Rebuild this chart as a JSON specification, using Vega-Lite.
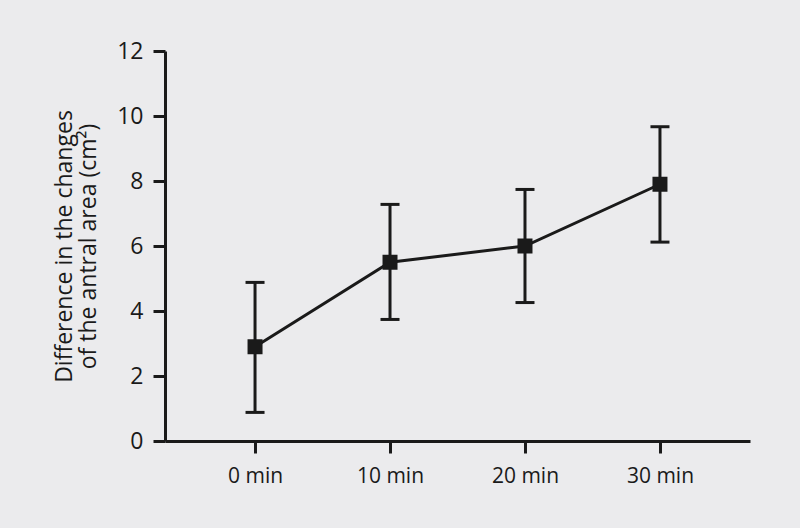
{
  "$schema": "https://vega.github.io/schema/vega-lite/v6.json",
  "width": 585,
  "height": 390,
  "autosize": {"type": "none"},
  "padding": {"left": 165, "top": 51, "right": 50, "bottom": 87},
  "background": "#ebebed",
  "config": {
    "view": {"stroke": null},
    "font": "Open Sans",
    "axis": {
      "domainColor": "#1a1a1a", "domainWidth": 3, "tickColor": "#1a1a1a", "tickWidth": 3,
      "tickSize": 12, "labelColor": "#1a1a1a", "titleColor": "#1a1a1a",
      "labelFontSize": 21, "titleFontSize": 23, "titleFontWeight": "normal", "grid": false,
      "labelFont": "Open Sans", "titleFont": "Open Sans", "titleLineHeight": 24
    }
  },
  "data": {"values": [
    {"time": "0 min", "mean": 2.9, "lo": 0.88, "hi": 4.88},
    {"time": "10 min", "mean": 5.5, "lo": 3.74, "hi": 7.28},
    {"time": "20 min", "mean": 6.0, "lo": 4.26, "hi": 7.74},
    {"time": "30 min", "mean": 7.9, "lo": 6.12, "hi": 9.67}
  ]},
  "encoding": {
    "x": {"field": "time", "type": "ordinal", "sort": null,
      "scale": {"type": "point", "padding": 0.667},
      "axis": {"title": null, "labelAngle": 0, "labelPadding": 12}}
  },
  "layer": [
    {"mark": {"type": "rule", "color": "#1a1a1a", "strokeWidth": 3},
     "encoding": {"y": {"field": "lo", "type": "quantitative",
        "scale": {"domain": [0, 12]},
        "axis": {"values": [0,2,4,6,8,10,12], "labelPadding": 10, "labelFontSize": 23, "titlePadding": 16,
          "title": ["Difference in the changes", "of the antral area (cm²)"]}},
        "y2": {"field": "hi"}}},
    {"mark": {"type": "tick", "orient": "horizontal", "color": "#1a1a1a", "opacity": 1, "thickness": 3, "size": 19},
     "encoding": {"y": {"field": "lo", "type": "quantitative"}}},
    {"mark": {"type": "tick", "orient": "horizontal", "color": "#1a1a1a", "opacity": 1, "thickness": 3, "size": 19},
     "encoding": {"y": {"field": "hi", "type": "quantitative"}}},
    {"mark": {"type": "line", "color": "#1a1a1a", "strokeWidth": 3},
     "encoding": {"y": {"field": "mean", "type": "quantitative"}}},
    {"mark": {"type": "square", "color": "#1a1a1a", "opacity": 1, "filled": true, "size": 225},
     "encoding": {"y": {"field": "mean", "type": "quantitative"}}}
  ]
}
